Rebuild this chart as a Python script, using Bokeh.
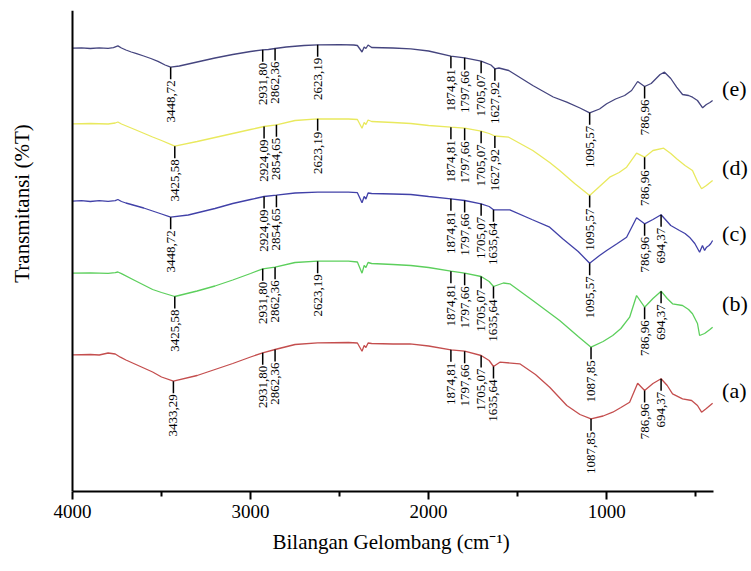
import numpy as np
from math import pi
from bokeh.plotting import figure
from bokeh.models import Range1d, FixedTicker, Label, ColumnDataSource, Title
from bokeh.core.properties import value
from bokeh.embed import file_html
from bokeh.resources import INLINE

# ---------------- data (wavenumber cm-1, stacked transmittance, arbitrary units) -------------
wn_e = [4000, 3950, 3900, 3850, 3800, 3770, 3745, 3725, 3700, 3670, 3640, 3600, 3560, 3520, 3480,
        3448.72, 3400, 3300, 3200, 3100, 3000, 2931.8, 2900, 2862.36, 2800, 2700, 2623.19, 2500, 2420,
        2400, 2374, 2362, 2352, 2340, 2320, 2200, 2100, 2000, 1874.81, 1797.66, 1705.07, 1650, 1627.92,
        1605, 1550, 1415, 1300, 1224, 1150, 1095.57, 1040, 1000, 950, 899, 860, 826, 786.96, 750, 700,
        675, 640, 607, 574, 540, 518, 490, 461, 440, 420, 405]
t_e = [443.3, 443.7, 443.0, 443.6, 443.2, 443.8, 445.6, 443.5, 441.5, 439.5, 437.8, 435.5, 433.0, 430.2, 426.5,
       424.3, 425.5, 429.5, 433.5, 437.0, 440.0, 441.7, 442.0, 443.0, 444.5, 446.0, 446.7, 446.8, 446.5,
       446.0, 439.5, 444.5, 443.0, 446.5, 444.0, 443.5, 442.7, 440.5, 435.3, 433.7, 430.3, 426.5, 422.7,
       423.5, 421.0, 406.0, 394.5, 389.3, 383.5, 378.7, 382.5, 387.7, 392.5, 396.0, 401.0, 410.0, 405.0, 408.0, 417.0,
       419.3, 413.0, 404.3, 397.0, 396.0, 394.3, 391.0, 383.7, 387.0, 389.0, 391.0]

wn_d = [4000, 3900, 3800, 3760, 3745, 3725, 3650, 3550, 3500, 3425.58, 3300, 3200, 3100, 3000, 2924.09,
        2854.65, 2750, 2623.19, 2450, 2400, 2374, 2362, 2352, 2340, 2320, 2200, 2100, 2000, 1874.81, 1797.66,
        1705.07, 1660, 1627.92, 1550, 1415, 1320, 1264, 1180, 1095.57, 1040, 983, 930, 888, 832, 786.96,
        740, 680, 640, 607, 560, 518, 490, 467, 440, 405]
t_d = [367.7, 368.0, 367.5, 368.5, 369.5, 367.5, 362.0, 354.5, 351.0, 345.3, 350.0, 354.0, 358.0, 362.0, 365.0,
       366.7, 371.0, 372.7, 372.5, 372.0, 363.3, 369.0, 367.0, 371.5, 370.0, 369.0, 368.0, 366.0, 364.3, 363.3,
       360.3, 358.0, 355.5, 354.3, 341.0, 329.0, 321.0, 308.0, 296.0, 305.0, 314.3, 319.0, 324.3, 338.3, 334.3,
       341.0, 343.3, 338.0, 332.7, 326.0, 321.0, 310.0, 302.7, 306.0, 311.0]

wn_c = [4000, 3950, 3900, 3850, 3800, 3760, 3745, 3725, 3700, 3650, 3600, 3550, 3500, 3448.72, 3350,
        3200, 3100, 3000, 2924.09, 2854.65, 2750, 2623.19, 2450, 2400, 2374, 2362, 2352, 2340, 2320, 2200,
        2100, 2000, 1874.81, 1797.66, 1705.07, 1660, 1635.64, 1544, 1420, 1320, 1247, 1160, 1095.57, 1040, 1000,
        940, 888, 832, 786.96, 740, 694.37, 640, 591, 560, 535, 505, 478, 462, 450, 439, 425, 415, 405]
t_c = [290.3, 290.8, 290.0, 290.8, 290.2, 290.8, 292.0, 290.0, 288.5, 286.0, 283.5, 280.5, 277.5, 274.3, 276.5,
       283.0, 288.0, 292.0, 295.0, 296.3, 298.5, 299.3, 299.3, 298.8, 288.7, 295.0, 292.5, 298.5, 298.0, 297.5,
       297.0, 295.0, 292.7, 291.0, 287.7, 285.0, 281.7, 281.7, 272.0, 264.3, 252.7, 240.0, 228.3, 236.0, 241.0,
       248.0, 254.3, 273.7, 267.7, 272.0, 276.7, 266.0, 261.0, 258.0, 254.3, 248.0, 239.3, 246.0, 241.0, 244.3,
       246.0, 248.0, 251.0]

wn_b = [4000, 3900, 3800, 3760, 3745, 3725, 3650, 3550, 3500, 3425.58, 3300, 3200, 3100, 3000, 2931.8,
        2862.36, 2750, 2623.19, 2450, 2400, 2374, 2362, 2352, 2340, 2320, 2200, 2100, 2000, 1874.81, 1797.66,
        1705.07, 1660, 1635.64, 1580, 1544, 1415, 1264, 1160, 1087.85, 1020, 966, 920, 871, 832, 786.96,
        740, 694.37, 660, 630, 574, 540, 518, 490, 478, 450, 420, 405]
t_b = [218.3, 218.6, 218.2, 218.8, 219.5, 217.8, 211.0, 202.0, 199.0, 195.0, 200.5, 205.5, 211.5, 218.0, 222.7,
       224.3, 229.0, 230.3, 230.3, 229.5, 218.3, 226.0, 224.0, 229.0, 228.0, 227.0, 226.0, 224.0, 220.3, 218.3,
       215.0, 210.0, 205.0, 208.5, 207.7, 191.0, 171.0, 155.0, 144.3, 150.0, 156.0, 163.0, 174.3, 196.0, 184.3,
       193.0, 200.3, 193.0, 187.7, 186.0, 182.0, 177.7, 168.0, 156.0, 158.0, 162.0, 164.3]

wn_a = [4000, 3900, 3850, 3800, 3760, 3731, 3700, 3650, 3550, 3500, 3433.29, 3300, 3200, 3100, 3000,
        2931.8, 2862.36, 2750, 2623.19, 2450, 2400, 2374, 2362, 2352, 2340, 2320, 2200, 2105, 2000, 1874.81,
        1797.66, 1705.07, 1660, 1635.64, 1600, 1488, 1400, 1320, 1224, 1150, 1087.85, 1020, 966, 920, 871,
        826, 786.96, 740, 694.37, 660, 630, 574, 523, 490, 467, 440, 405]
t_a = [136.7, 137.0, 136.5, 138.5, 137.5, 134.3, 131.5, 127.5, 119.5, 114.5, 110.3, 116.0, 122.0, 128.0, 134.5,
       138.7, 142.0, 147.0, 148.7, 149.0, 148.5, 140.3, 146.0, 144.0, 148.5, 148.0, 147.5, 147.7, 145.5, 141.7,
       140.3, 136.0, 131.0, 125.0, 129.3, 127.7, 117.0, 104.3, 86.0, 77.0, 72.7, 75.5, 79.3, 84.0, 89.3,
       108.3, 101.0, 108.0, 112.7, 106.0, 97.7, 92.7, 91.0, 86.0, 79.3, 83.0, 88.3]

# labelled peaks per sample
peaks_e = [3448.72, 2931.80, 2862.36, 2623.19, 1874.81, 1797.66, 1705.07, 1627.92, 1095.57, 786.96]
peaks_d = [3425.58, 2924.09, 2854.65, 2623.19, 1874.81, 1797.66, 1705.07, 1627.92, 1095.57, 786.96]
peaks_c = [3448.72, 2924.09, 2854.65, 1874.81, 1797.66, 1705.07, 1635.64, 1095.57, 786.96, 694.37]
peaks_b = [3425.58, 2931.80, 2862.36, 2623.19, 1874.81, 1797.66, 1705.07, 1635.64, 1087.85, 786.96, 694.37]
peaks_a = [3433.29, 2931.80, 2862.36, 1874.81, 1797.66, 1705.07, 1635.64, 1087.85, 786.96, 694.37]

sample_names = ["(a)", "(b)", "(c)", "(d)", "(e)"]
x_major = [1000, 2000, 3000, 4000]
x_minor = [500, 1500, 2500, 3500]
x_axis_span = (400, 4000)

# ---------------- styles / positions ----------------
colors = ["#c44e4e", "#5ccf5c", "#4141a8", "#e9e95e", "#45457f"]
name_y = [101, 188, 258, 324, 403]
name_x = 352
ytitle_x, ytitle_y = 4281, 288
FONT = "'Liberation Serif', serif"

p = figure(width=751, height=571, output_backend="svg", toolbar_location=None,
           x_range=Range1d(4404.4, 186.6), y_range=Range1d(0, 481),
           min_border_left=0, min_border_right=0, min_border_top=10, min_border_bottom=80)
p.outline_line_color = None
p.xgrid.grid_line_color = None
p.ygrid.grid_line_color = None
p.background_fill_color = "white"
p.border_fill_color = "white"

# x axis
xa = p.xaxis[0]
xa.bounds = x_axis_span
xa.ticker = FixedTicker(ticks=x_major, minor_ticks=x_minor)
xa.axis_line_width = 2
xa.axis_line_color = "black"
xa.major_tick_line_width = 2
xa.major_tick_out = 8
xa.major_tick_in = 0
xa.minor_tick_line_width = 2
xa.minor_tick_out = 5
xa.minor_tick_in = 0
xa.major_label_text_font = FONT
xa.major_label_text_font_size = "19px"
xa.major_label_text_color = "black"
xa.major_label_standoff = 5

# y axis: line only, drawn at 4000 cm-1
ya = p.yaxis[0]
ya.fixed_location = x_axis_span[1]
ya.ticker = FixedTicker(ticks=[])
ya.axis_line_width = 2
ya.axis_line_color = "black"
ya.major_tick_out = 0
ya.minor_tick_out = 0
ya.major_label_standoff = 0
ya.major_label_text_font_size = "0px"

p.add_layout(Title(text="Bilangan Gelombang (cm\u207b\u00b9)", align="left", offset=272,
                   vertical_align="top", standoff=19,
                   text_font=FONT, text_font_size="21px", text_font_style="normal",
                   text_color="black"), "below")

traces = [(wn_a, t_a, peaks_a), (wn_b, t_b, peaks_b), (wn_c, t_c, peaks_c),
          (wn_d, t_d, peaks_d), (wn_e, t_e, peaks_e)]

for (wn, t, peaks), col, nm, ny in zip(traces, colors, sample_names, name_y):
    p.line(wn, t, line_color=col, line_width=1.3)
    wn_arr = np.array(wn)[::-1]
    t_arr = np.array(t)[::-1]
    py = np.interp(peaks, wn_arr, t_arr)
    src = ColumnDataSource(dict(x=peaks, y0=py, y1=py - 12, ty=py - 13,
                                txt=[f"{v:.2f}".replace(".", ",") for v in peaks]))
    p.segment(x0="x", y0="y0", x1="x", y1="y1", source=src, line_color="black", line_width=1.5)
    p.text(x="x", y="ty", text="txt", source=src, angle=pi / 2, text_align="right",
           text_baseline="middle", text_font=value(FONT), text_font_size="13px", text_color="black")
    p.add_layout(Label(x=name_x, y=ny, text=nm, text_font=FONT, text_font_size="22px",
                       text_align="left", text_baseline="middle", text_color="black"))

p.add_layout(Label(x=ytitle_x, y=ytitle_y, text="Transmitansi (%T)", angle=pi / 2, text_font=FONT,
                   text_font_size="21px", text_align="center", text_baseline="middle",
                   text_color="black"))

open("out.html", "w").write(file_html(p, INLINE))
